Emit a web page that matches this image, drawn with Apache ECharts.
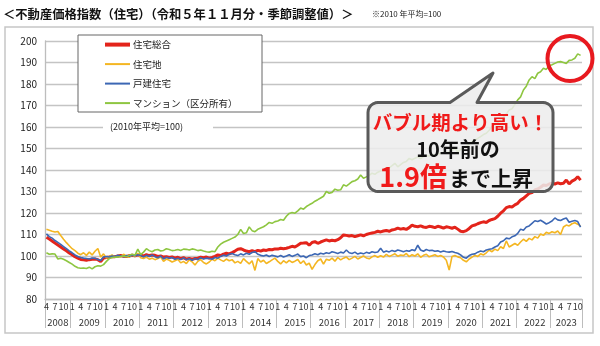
<!DOCTYPE html>
<html><head><meta charset="utf-8">
<script src="https://cdn.jsdelivr.net/npm/echarts@6/dist/echarts.min.js"></script>
<style>html,body{margin:0;padding:0;background:#fff}#c{width:600px;height:346px}</style>
</head><body><div id="c"></div>
<script>
// ---- data (monthly, 2008/4 - 2023/11, seasonally adjusted, 2010 avg = 100) ----
const seriesNames = ['住宅総合', '住宅地', '戸建住宅', 'マンション（区分所有）'];
const startYear = 2008, startMonth = 4, endYear = 2023, endMonth = 11;

const sogo = [
108.7,107.9,107.0,106.0,105.1,104.2,103.3,102.4,101.4,
100.6,99.7,99.0,98.4,98.2,98.0,98.3,98.5,98.6,98.3,97.4,99.0,
99.3,99.5,99.8,99.7,100.0,100.2,99.9,99.8,100.1,100.3,100.1,100.5,
100.4,100.0,100.6,100.2,100.5,100.3,99.8,100.0,99.5,99.7,99.3,99.6,
99.0,99.4,98.8,99.2,98.6,98.9,98.5,98.8,99.0,99.4,99.2,99.5,
99.0,99.3,99.8,100.5,100.2,100.9,101.3,101.0,101.6,102.3,103.1,103.4,
102.8,102.3,102.0,102.5,102.0,102.6,102.3,102.8,102.6,103.0,102.9,103.3,
103.2,103.6,103.4,103.6,104.0,104.5,104.2,105.0,105.9,106.0,106.2,105.0,
106.3,106.7,105.9,106.5,107.0,107.5,107.0,107.3,107.1,107.6,108.5,109.8,
109.6,109.3,109.5,109.0,109.4,109.8,109.4,110.0,110.4,110.7,111.0,111.5,
111.2,111.6,111.9,111.5,112.1,112.4,113.0,112.5,112.8,112.4,113.2,114.4,
113.8,113.6,114.0,113.5,113.3,113.8,113.6,113.2,113.8,113.5,113.0,113.6,
113.3,112.9,113.4,112.5,111.5,111.3,111.8,112.8,114.0,114.4,115.0,115.5,
115.9,115.6,116.5,117.0,117.4,118.5,119.9,121.0,122.5,123.0,122.8,123.8,
124.5,126.0,126.8,128.0,129.1,129.5,130.7,131.2,132.0,133.0,132.8,133.5,
133.8,133.5,134.0,133.6,133.8,135.3,133.5,134.8,135.5,136.9,135.3
];
const takuchi = [
112.4,112.0,111.5,111.2,111.4,109.5,107.8,106.2,104.8,
103.4,102.5,101.3,100.6,101.5,100.3,101.8,100.5,102.2,103.5,99.5,101.0,
99.0,99.8,100.5,99.3,100.2,99.6,100.8,100.0,99.4,100.5,99.8,101.2,
99.2,98.8,99.5,98.5,99.0,98.3,98.8,99.5,97.5,98.6,98.0,97.2,
97.8,98.5,96.8,97.5,96.5,98.2,97.3,95.8,97.5,98.3,97.0,96.3,
97.2,98.5,97.8,99.0,98.2,97.5,98.6,97.8,98.3,96.8,97.5,96.6,
98.8,97.5,96.3,97.8,93.3,98.8,97.2,98.0,96.5,97.3,98.2,99.0,
97.5,96.3,97.8,96.8,98.0,97.0,97.6,98.4,96.5,97.8,95.8,96.7,
93.8,96.0,97.8,98.6,96.2,98.5,98.0,99.0,97.6,99.3,98.2,99.0,
99.5,98.3,99.0,99.8,98.6,99.3,100.0,99.1,98.7,99.6,100.2,99.4,
100.1,99.5,100.8,99.8,100.4,101.0,99.9,100.5,100.2,101.2,99.7,100.6,
100.0,101.0,99.4,100.3,100.8,99.6,100.1,100.6,99.8,100.2,99.5,98.0,
93.5,99.8,100.2,99.6,99.2,98.0,97.3,98.6,99.5,100.3,99.8,101.0,
100.5,101.5,102.8,102.0,103.2,102.5,104.3,103.5,107.0,104.2,105.0,105.8,
105.0,106.5,107.8,106.8,108.2,107.5,109.0,108.3,110.2,109.6,111.0,110.5,
111.3,110.8,111.6,110.0,113.5,114.4,114.0,115.0,115.5,114.8,113.9
];
const kodate = [
110.3,109.0,108.3,107.2,106.3,105.4,104.4,103.4,102.4,
101.5,100.5,99.8,99.3,99.0,98.8,98.6,99.1,98.9,98.4,97.9,99.5,
99.8,99.5,100.0,99.8,100.3,100.0,99.7,100.2,99.9,100.4,100.1,100.6,
100.2,99.6,100.3,99.8,100.5,99.7,99.2,100.0,98.6,99.4,99.0,99.3,
98.5,99.0,98.3,99.1,98.2,98.8,98.0,98.9,98.3,99.2,98.6,99.0,
98.8,98.5,99.3,99.0,99.8,100.4,100.0,100.8,101.2,100.6,100.2,101.0,
100.5,101.3,100.8,101.6,102.0,100.8,100.3,100.0,100.5,99.8,100.3,100.0,
99.6,100.2,99.5,100.0,100.6,99.8,100.3,100.9,99.7,100.0,99.2,100.2,
100.5,101.0,100.6,101.3,100.9,101.5,101.2,102.0,101.6,101.2,101.8,101.4,
102.8,101.5,101.2,101.8,100.9,101.4,101.0,101.7,101.3,102.0,101.6,101.9,
103.6,101.8,102.3,101.9,102.6,102.1,102.8,102.4,102.0,102.5,102.2,102.9,
102.5,105.0,102.8,102.2,103.0,102.5,102.7,102.2,102.4,101.9,102.3,102.0,
101.8,102.1,101.6,101.3,100.5,99.4,99.0,100.2,100.8,101.0,101.8,102.3,
102.0,102.8,103.1,103.4,104.2,104.8,106.5,107.1,108.3,108.0,108.9,109.4,
110.5,112.5,112.0,113.5,114.0,115.2,116.4,116.0,116.6,115.8,114.9,115.5,
116.3,117.7,116.8,116.5,117.2,117.7,115.7,116.2,116.5,116.0,113.4
];
const mansion = [
101.5,100.8,101.0,100.9,98.6,99.0,98.5,97.8,97.0,
96.2,95.2,94.5,94.3,94.4,94.2,94.8,94.0,95.0,95.5,95.3,96.0,
97.5,98.8,99.3,99.5,99.4,99.8,100.0,99.6,100.3,100.8,100.4,103.2,
100.6,101.8,103.4,102.5,102.0,102.8,103.0,102.3,102.6,103.4,103.0,102.5,
102.7,103.0,102.6,103.2,103.1,102.8,103.3,103.0,102.5,102.8,102.3,102.0,
101.8,102.2,102.0,104.2,105.5,106.4,107.0,107.6,108.2,108.8,110.0,112.4,
110.5,110.8,113.5,111.8,111.3,112.4,113.0,113.6,114.5,115.6,115.2,116.0,
116.3,117.0,116.6,118.5,119.8,120.2,119.9,121.0,122.3,121.8,123.0,123.8,
124.5,125.5,126.2,127.0,127.8,130.0,129.2,129.6,131.1,130.6,130.8,133.1,
132.5,133.5,134.6,135.0,135.8,137.7,136.2,136.8,137.5,138.5,138.0,139.0,
139.5,140.0,139.6,141.0,142.0,143.1,141.5,142.5,143.5,144.0,145.4,144.8,
145.5,146.0,145.3,146.2,146.8,146.5,147.2,146.8,147.5,147.7,148.2,148.0,
148.5,149.0,150.1,148.5,149.5,150.5,150.9,152.0,153.2,153.8,154.7,155.5,
156.5,157.1,158.5,160.2,161.0,162.0,163.3,164.5,166.0,167.9,168.5,170.5,
172.6,174.0,177.2,179.0,181.9,183.4,182.5,185.0,185.7,187.3,186.8,188.5,
189.0,189.6,190.2,190.4,190.0,189.6,191.0,191.2,192.0,194.0,193.3
];
const yTicks = {min: 80, max: 200, interval: 10};
const monthLabelMonths = [1, 4, 7, 10];

// ---- build categories ----
const categories = [];
for (let y = startYear, m = startMonth; y < endYear || (y === endYear && m <= endMonth); ) {
  categories.push(y + '-' + m);
  m++; if (m > 12) { m = 1; y++; }
}
const ym = c => c.split('-').map(Number);

const FONT = '"Noto Sans CJK JP", "Noto Sans", sans-serif';
const colors = ['#e3241b', '#f4b622', '#3c67b4', '#8ec641'];
const widths = [3, 1.6, 1.6, 1.6];
const legendWidths = [4, 2, 2, 2];
const dataSets = [sogo, takuchi, kodate, mansion];

// callout outline (rounded rect with pointer)
function calloutPoints(x0, y0, x1, y1, r, pl, tip, pr) {
  const pts = [];
  function arc(cx, cy, a0, a1) {
    for (let k = 0; k <= 6; k++) {
      const a = (a0 + (a1 - a0) * k / 6) * Math.PI / 180;
      pts.push([cx + r * Math.cos(a), cy + r * Math.sin(a)]);
    }
  }
  pts.push([x0 + r, y0], [pl, y0], tip, [pr, y0]);
  arc(x1 - r, y0 + r, -90, 0);
  arc(x1 - r, y1 - r, 0, 90);
  arc(x0 + r, y1 - r, 90, 180);
  arc(x0 + r, y0 + r, 180, 270);
  return pts;
}

const chart = echarts.init(document.getElementById('c'), null, {renderer: 'canvas'});
chart.setOption({
  animation: false,
  backgroundColor: '#fff',
  textStyle: {fontFamily: FONT},
  grid: {left: 45, right: 18, top: 41, bottom: 47, containLabel: false},
  legend: {
    orient: 'vertical', left: 103, top: 39, z: 10,
    itemWidth: 25, itemHeight: 14, itemGap: 8.3, padding: 0,
    itemStyle: {opacity: 0},
    textStyle: {fontSize: 9.5, color: '#222', fontFamily: FONT, padding: [0, 0, 0, -2]},
    data: seriesNames.map((n, k) => ({name: n, lineStyle: {width: legendWidths[k]}}))
  },
  xAxis: [{
    type: 'category', data: categories, boundaryGap: true,
    axisLine: {lineStyle: {color: '#bdbdbd', width: 1.3}},
    axisTick: {show: true, length: 29, lineStyle: {color: '#bdbdbd', width: 1},
      interval: (i, v) => i === 0 || ym(v)[1] === 1},
    axisLabel: {
      interval: (i, v) => monthLabelMonths.includes(ym(v)[1]),
      formatter: v => String(ym(v)[1]),
      fontSize: 9, color: '#333', margin: 3, fontFamily: FONT
    },
    splitLine: {show: false}
  }, {
    type: 'category', data: categories, boundaryGap: true, position: 'bottom', offset: 16,
    axisLine: {show: false}, axisTick: {show: false},
    axisLabel: {
      interval: (i, v) => {
        const [y, m] = ym(v);
        if (y === startYear) return i === 4;
        if (y === endYear) return m === 6;
        return m === 7;
      },
      formatter: v => String(ym(v)[0]),
      fontSize: 9.5, color: '#333', margin: 3, fontFamily: FONT
    }
  }],
  yAxis: {
    type: 'value', min: yTicks.min, max: yTicks.max, interval: yTicks.interval,
    axisLine: {show: true, lineStyle: {color: '#bdbdbd', width: 1.3}},
    axisTick: {show: false},
    splitLine: {lineStyle: {color: '#c4c4c4', width: 1.3}},
    axisLabel: {fontSize: 10, color: '#222', margin: 8, fontFamily: FONT}
  },
  series: seriesNames.map((n, k) => ({
    name: n, type: 'line', data: dataSets[k], xAxisIndex: 0,
    symbol: 'none', smooth: false,
    lineStyle: {color: colors[k], width: widths[k]},
    itemStyle: {color: colors[k]},
    z: 2 + k
  })),
  graphic: [
    // outer frame
    {type: 'rect', z: 1, shape: {x: 5, y: 27, width: 588, height: 306},
      style: {fill: 'none', stroke: '#c6c6c6', lineWidth: 1.5}},
    // title
    {type: 'text', z: 30, style: {text: '＜不動産価格指数（住宅）（令和５年１１月分・季節調整値）＞',
      x: 3, y: 14, font: 'bold 12.3px ' + FONT, fill: '#111', verticalAlign: 'middle'}},
    {type: 'text', z: 30, style: {text: '※2010 年平均=100',
      x: 372, y: 14, font: '8px ' + FONT, fill: '#222', verticalAlign: 'middle'}},
    // legend box
    {type: 'rect', z: 5, shape: {x: 78, y: 35, width: 184, height: 77},
      style: {fill: '#fff', stroke: '#666', lineWidth: 1}},
    // base note
    {type: 'rect', z: 5, shape: {x: 103, y: 120, width: 110, height: 13},
      style: {fill: '#fff'}},
    {type: 'text', z: 6, style: {text: '(2010年平均=100)', x: 110, y: 127,
      font: '9px ' + FONT, fill: '#222', verticalAlign: 'middle'}},
    // callout
    {type: 'polygon', z: 20, shape: {points: calloutPoints(368, 102.5, 553, 191.5, 10, 450, [493, 73], 477)},
      style: {fill: 'rgba(236,236,236,0.86)', stroke: '#5a5a5a', lineWidth: 3, lineJoin: 'round'}},
    {type: 'text', z: 21, style: {text: 'バブル期より高い！', x: 460.5, y: 123,
      font: 'bold 19.5px ' + FONT, fill: '#f01a1a', align: 'center', verticalAlign: 'middle'}},
    {type: 'text', z: 21, style: {text: '10年前の', x: 458, y: 149,
      font: 'bold 20px ' + FONT, fill: '#111', align: 'center', verticalAlign: 'middle'}},
    {type: 'text', z: 21, style: {text: '1.9倍', x: 447, y: 190,
      font: 'bold 27px ' + FONT, fill: '#f01a1a', align: 'right', verticalAlign: 'bottom'}},
    {type: 'text', z: 21, style: {text: 'まで上昇', x: 449, y: 189,
      font: 'bold 21px ' + FONT, fill: '#111', align: 'left', verticalAlign: 'bottom'}},
    // highlight circle
    {type: 'circle', z: 22, shape: {cx: 570, cy: 58.5, r: 22.5},
      style: {fill: 'none', stroke: '#e8191f', lineWidth: 4}}
  ]
});
</script>
</body></html>
